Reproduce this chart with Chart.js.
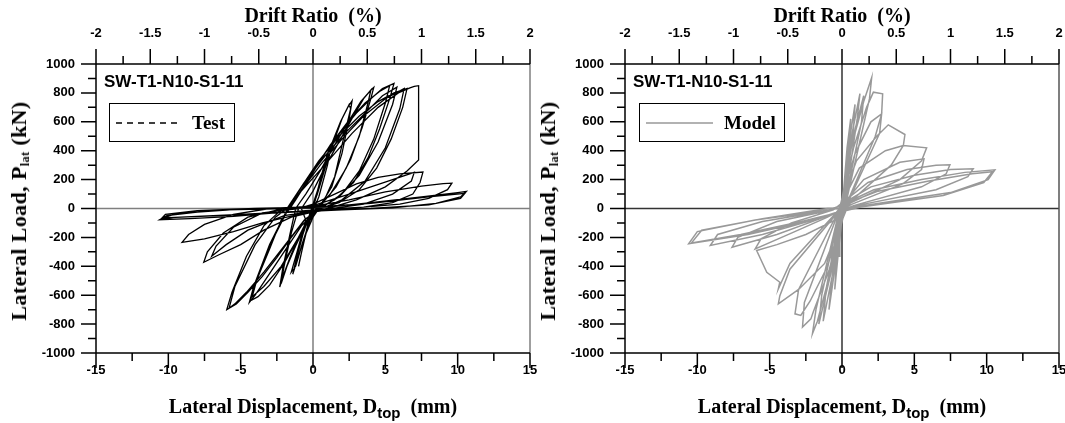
<!DOCTYPE html>
<html>
<head>
<meta charset="utf-8">
<script src="https://cdn.jsdelivr.net/npm/chart.js@4.4.0/dist/chart.umd.min.js"></script>
<style>
body { margin: 0; background: #fff; }
#wrap { position: relative; width: 1065px; height: 423px; overflow: hidden; background: #fff; }
.panel { position: absolute; top: 0; height: 423px; }
.panel canvas { position: absolute; left: 0; top: 0; }
.ttl { position: absolute; font-family: "Liberation Serif", "Times New Roman", serif; font-weight: bold; font-size: 20px; line-height: 20px; white-space: nowrap; color: #000; }
.ttl.top { left: 313px; top: 5px; transform: translateX(-50%); }
.ttl.bot { left: 313px; top: 396px; transform: translateX(-50%); }
.ttl.ylab { left: 19px; top: 211px; font-size: 22px; letter-spacing: 0.4px; transform: translate(-50%, -50%) rotate(-90deg); }
.ttl sub { font-size: 12px; vertical-align: -3px; line-height: 0; }
.ttl .dsub { font-family: "Liberation Sans", Arial, sans-serif; font-size: 15px; position: relative; top: 5px; }
.tag { position: absolute; left: 104px; top: 73px; font-family: "Liberation Sans", Arial, sans-serif; font-weight: bold; font-size: 17px; line-height: 18px; white-space: nowrap; }
.legend { position: absolute; top: 103px; height: 39px; border: 1px solid #000; background: #fff; box-sizing: border-box; }
.legend svg { position: absolute; left: 5px; top: 0; }
.legend span { position: absolute; top: 9px; font-family: "Liberation Serif", "Times New Roman", serif; font-weight: bold; font-size: 19px; line-height: 20px; }
</style>
</head>
<body>
<div id="wrap">
  <div class="panel" style="left:0;width:545px">
    <canvas id="testChart" width="545" height="423"></canvas>
    <div class="ttl top">Drift Ratio&nbsp;&nbsp;(%)</div>
    <div class="ttl ylab">Lateral Load, P<sub>lat</sub> (kN)</div>
    <div class="ttl bot">Lateral Displacement, D<span class="dsub">top</span>&nbsp;&nbsp;(mm)</div>
    <div class="tag">SW-T1-N10-S1-11</div>
    <div class="legend" style="left:109px;width:126px">
      <svg width="70" height="37"><line x1="1" y1="19" x2="66" y2="19" stroke="#000" stroke-width="1.3" stroke-dasharray="6 5"/></svg>
      <span style="left:82px">Test</span>
    </div>
  </div>
  <div class="panel" style="left:529px;width:536px">
    <canvas id="modelChart" width="536" height="423"></canvas>
    <div class="ttl top">Drift Ratio&nbsp;&nbsp;(%)</div>
    <div class="ttl ylab">Lateral Load, P<sub>lat</sub> (kN)</div>
    <div class="ttl bot">Lateral Displacement, D<span class="dsub">top</span>&nbsp;&nbsp;(mm)</div>
    <div class="tag">SW-T1-N10-S1-11</div>
    <div class="legend" style="left:110px;width:146px">
      <svg width="75" height="37"><line x1="1" y1="19" x2="68" y2="19" stroke="#999" stroke-width="1.5"/></svg>
      <span style="left:84px">Model</span>
    </div>
  </div>
</div>
<script>
// tick labels
const dispTicks = [-15, -10, -5, 0, 5, 10, 15];
const driftTicks = [-2, -1.5, -1, -0.5, 0, 0.5, 1, 1.5, 2];
const loadTicks = [-1000, -800, -600, -400, -200, 0, 200, 400, 600, 800, 1000];

// test: top displacement (mm) / lateral load (kN), one line per cycle
const testDisp = [
  0,
  0.3, 0.6, 0.4, 0, -0.3, -0.6, -0.4, 0,
  0.5, 1.0, 1.3, 1.0, 0.4, -0.2, -0.6, -0.9, -1.0, -0.7, -0.2,
  0.3, 0.9, 1.5, 2.0, 2.4, 2.7, 2.5, 2.0, 1.3, 0.5, -0.2, -0.7, -1.1, -1.4, -1.2, -0.7, -0.2,
  0.4, 1.1, 1.9, 2.5, 2.6, 2.1, 1.5, 0.7, 0, -0.6, -1.2, -1.5, -1.1, -0.5,
  -0.8, 0, 0.9, 1.9, 2.8, 3.5, 4.0, 4.2, 4.0, 3.4, 2.6, 1.6, 0.6, -0.3, -1.0, -1.6, -2.0, -2.3, -2.1, -1.6, -1.2,
  -0.5, 0.5, 1.5, 2.5, 3.3, 4.0, 3.8, 3.2, 2.3, 1.2, 0.2, -0.5, -1.2, -1.8, -2.2, -2.0, -1.5, -1.0,
  -1.6, -0.8, 0, 1.0, 2.0, 3.0, 4.0, 4.8, 5.6, 5.3, 4.6, 3.8, 2.8, 1.5, 0.3, -0.3, -1.0, -2.0, -3.0, -3.8, -4.35, -4.0, -3.0, -2.2, -1.6,
  -1.2, 0, 1.2, 2.4, 3.6, 4.6, 5.3, 5.0, 4.2, 3.2, 2.0, 0.8, 0, -1.0, -2.2, -3.4, -4.2, -3.9, -2.8, -1.8,
  -1.7, -0.8, 0.4, 1.8, 3.2, 4.5, 5.6, 6.5, 6.2, 5.4, 4.4, 3.2, 1.8, 0.5, -0.5, -1.5, -2.5, -3.5, -4.5, -5.3, -5.96, -5.6, -4.6, -3.4, -2.3, -1.7,
  -1.0, 0.5, 2.0, 3.5, 5.0, 6.3, 6.0, 5.0, 3.6, 2.0, 0.6, -0.6, -2.0, -3.4, -4.6, -5.4, -5.8, -5.4, -4.0, -2.6, -1.8,
  -0.6, 0.8, 2.2, 3.6, 4.8, 5.8, 5.5, 4.5, 3.2, 1.8, 0.4, -0.8, -2.0, -3.2, -4.0, -4.4, -4.1, -3.0, -1.9,
  -1.0, 0.8, 2.7, 4.5, 5.9, 6.7, 7.0, 7.3, 7.3, 7.3, 7.3, 6.5, 5.0, 3.0, 1.0, -1.5, -3.4, -5.0, -6.5, -7.55, -7.3, -6.2, -4.5, -2.0,
  0, 2.5, 5.5, 7.0, 6.8, 5.5, 3.5, 1.0, -2.0, -4.5, -6.0, -7.0, -6.7, -5.5, -3.5, -1.0,
  0, 1.5, 3.0, 4.5, 6.0, 7.6, 7.4, 6.9, 5.5, 3.5, 1.0, -1.0, -3.5, -5.5, -7.5, -9.05, -8.6, -7.5, -5.5, -3.0,
  0, 2.5, 5.0, 7.5, 9.0, 9.6, 9.3, 8.0, 6.0, 3.5, 1.0, -2.0, -5.5, -8.5, -10.6, -10.1, -8.0, -5.0, -2.0,
  1.0, 4.0, 7.5, 10.0, 10.6, 10.2, 8.5, 5.5, 2.0, -2.5, -6.5, -9.5, -10.5, -10.2, -8.0, -4.0, 0,
  4.0, 8.0, 10.5, 10.2, 8.0, 4.0, 0, -5.0, -10.3, -9.5, -6.0, -2.0, 0
];
const testLoad = [
  0,
  120, 230, 150, 20, -100, -220, -140, -10,
  200, 380, 450, 300, 80, -60, -220, -350, -400, -260, -40,
  100, 300, 480, 620, 700, 745, 620, 380, 150, 20, -80, -230, -360, -455, -370, -180, -30,
  150, 400, 600, 720, 690, 480, 220, 40, -60, -200, -400, -440, -300, -80,
  0, 120, 300, 480, 640, 760, 820, 838, 760, 560, 340, 150, 30, -80, -200, -340, -450, -544, -420, -180, 0,
  100, 260, 440, 610, 740, 820, 730, 500, 280, 100, 0, -110, -260, -400, -520, -400, -170, 0,
  0, 130, 260, 410, 540, 660, 760, 830, 865, 760, 550, 350, 180, 60, 0, -60, -200, -380, -530, -610, -640, -520, -280, -80, 0,
  60, 250, 440, 600, 730, 810, 850, 730, 480, 260, 100, 20, -40, -200, -400, -540, -610, -500, -220, -20,
  0, 150, 330, 500, 640, 740, 800, 830, 700, 480, 280, 130, 40, 0, -70, -200, -340, -470, -580, -660, -700, -580, -330, -120, -20, 0,
  100, 300, 480, 640, 760, 830, 690, 420, 190, 60, 0, -80, -260, -440, -580, -660, -690, -540, -250, -60, 0,
  180, 360, 520, 660, 780, 840, 720, 460, 230, 80, 0, -120, -300, -480, -600, -650, -540, -250, -30,
  100, 300, 520, 700, 800, 835, 845, 850, 700, 500, 335, 260, 150, 60, 0, -60, -150, -250, -320, -372, -300, -170, -60, 0,
  20, 100, 200, 250, 190, 100, 30, -5, -50, -150, -250, -330, -260, -130, -30, 0,
  30, 100, 170, 215, 240, 252, 180, 100, 40, 10, -10, -40, -100, -160, -210, -235, -180, -110, -40, 0,
  15, 60, 115, 155, 172, 175, 130, 70, 30, 10, -5, -25, -55, -70, -78, -50, -25, -5, 5,
  10, 40, 80, 110, 118, 80, 35, 5, -10, -30, -50, -62, -72, -40, -15, 0, 10,
  35, 80, 105, 70, 25, 0, -15, -40, -65, -35, -10, 0, 5
];

// model: top displacement (mm) / lateral load (kN), one line per cycle
const modelDisp = [
  0,
  0.15, 0.3, 0.25, 0.05, -0.1, -0.2, -0.15, 0,
  0.35, 0.6, 0.5, 0.1, -0.25, -0.5, -0.4, -0.05,
  0.4, 0.9, 0.8, 0.15, -0.4, -0.9, -0.75, -0.1,
  0.5, 1.24, 1.05, 0.2, -0.5, -1.3, -1.1, -0.15,
  0.6, 1.5, 1.35, 0.2, -0.7, -1.6, -1.4, -0.2,
  0.7, 1.5, 2.05, 1.9, 0.3, -0.8, -1.7, -2.04, -1.8, -0.25,
  0.8, 1.7, 2.17, 2.81, 2.74, 2.3, 0.35, -0.9, -2.0, -2.15, -2.73, -2.6, -0.3,
  0.9, 2.0, 2.74, 2.6, 0.4, -1.0, -2.2, -2.85, -3.25, -3.0, -0.35,
  1.0, 2.4, 3.2, 4.35, 4.24, 3.4, 0.5, -1.2, -3.0, -4.4, -4.3, -3.6, -0.4,
  1.2, 3.0, 4.24, 5.85, 5.5, 4.0, 0.6, -0.5, -2.5, -4.5, -5.9, -5.2, -4.3, -4.4, -3.6, -0.5,
  1.5, 4.0, 5.67, 5.5, 4.2, 0.7, -1.0, -3.5, -6.0, -5.6, -3.5, -0.6,
  1.8, 4.5, 6.5, 7.46, 7.2, 5.5, 0.8, -1.5, -4.5, -7.6, -7.2, -4.5, -0.7,
  2.0, 5.0, 7.5, 9.07, 8.7, 6.5, 1.0, -2.0, -5.5, -9.1, -8.6, -5.5, -0.8,
  2.2, 5.5, 8.5, 10.57, 10.1, 7.5, 1.2, -2.5, -6.5, -10.6, -10.0, -6.0, -0.9,
  2.5, 6.0, 9.0, 10.4, 9.8, 7.0, 1.3, -2.8, -7.0, -10.4, -9.7, -5.5, -1.0, 0
];
const modelLoad = [
  0,
  150, 330, 200, 20, -150, -330, -200, -20,
  420, 620, 420, 30, -300, -560, -380, -30,
  400, 720, 560, 40, -350, -700, -520, -40,
  420, 795, 620, 40, -380, -780, -560, -40,
  430, 780, 600, 40, -420, -800, -600, -40,
  450, 740, 905, 760, 50, -440, -780, -866, -700, -40,
  420, 700, 805, 794, 655, 500, 40, -430, -720, -764, -820, -650, -40,
  380, 600, 655, 520, 40, -400, -640, -740, -729, -560, -40,
  330, 500, 579, 512, 436, 300, 40, -380, -560, -660, -605, -420, -40,
  280, 400, 436, 420, 330, 200, 40, -80, -180, -250, -291, -441, -510, -556, -380, -40,
  200, 320, 344, 270, 170, 30, -60, -170, -279, -210, -100, -10,
  180, 270, 300, 302, 240, 150, 20, -70, -180, -268, -200, -90, -10,
  150, 230, 270, 275, 220, 130, 20, -80, -180, -256, -180, -90, -10,
  130, 200, 250, 268, 200, 110, 15, -90, -180, -244, -160, -80, -10,
  120, 190, 240, 255, 180, 90, 10, -90, -180, -238, -150, -70, 0, 0
];

const tickFont = { family: '"Liberation Sans", Arial, sans-serif', size: 13, weight: 'bold' };

function midpoints(vals) {
  const out = [];
  for (let i = 0; i < vals.length - 1; i++) out.push((vals[i] + vals[i + 1]) / 2);
  return out;
}

// frame, zero lines and outward tick marks, placed with the chart's scales
const axisFrame = {
  id: 'axisFrame',
  beforeDatasetsDraw(chart, args, opts) {
    const { ctx, chartArea: a, scales } = chart;
    const x0 = scales.x.getPixelForValue(0);
    const y0 = scales.y.getPixelForValue(0);
    ctx.save();
    ctx.strokeStyle = opts.zeroColor;
    ctx.lineWidth = 1.5;
    ctx.beginPath();
    ctx.moveTo(a.left, y0); ctx.lineTo(a.right, y0);
    ctx.moveTo(x0, a.top); ctx.lineTo(x0, a.bottom);
    ctx.stroke();
    ctx.restore();
  },
  afterDatasetsDraw(chart, args, opts) {
    const { ctx, chartArea: a, scales } = chart;
    ctx.save();
    ctx.lineWidth = 1.5;
    ctx.strokeStyle = opts.rightColor;
    ctx.beginPath();
    ctx.moveTo(a.right, a.top); ctx.lineTo(a.right, a.bottom);
    ctx.stroke();
    ctx.strokeStyle = '#000';
    ctx.beginPath();
    ctx.moveTo(a.left, a.bottom); ctx.lineTo(a.left, a.top); ctx.lineTo(a.right, a.top);
    ctx.moveTo(a.left, a.bottom); ctx.lineTo(a.right, a.bottom);

    [[dispTicks, 15], [midpoints(dispTicks), 8]].forEach(([vals, len]) => {
      vals.forEach(v => {
        const px = scales.x.getPixelForValue(v);
        ctx.moveTo(px, a.bottom); ctx.lineTo(px, a.bottom + len);
      });
    });
    [[driftTicks, 15], [midpoints(driftTicks), 8]].forEach(([vals, len]) => {
      vals.forEach(v => {
        const px = scales.x2.getPixelForValue(v);
        ctx.moveTo(px, a.top); ctx.lineTo(px, a.top - len);
      });
    });
    [[loadTicks, 15], [midpoints(loadTicks), 8]].forEach(([vals, len]) => {
      vals.forEach(v => {
        const py = scales.y.getPixelForValue(v);
        ctx.moveTo(a.left, py); ctx.lineTo(a.left - len, py);
      });
    });
    ctx.stroke();
    ctx.restore();
  }
};

function makeChart(id, disp, load, color, width, zeroColor, rightColor, canvasWidth) {
  const n = Math.min(disp.length, load.length);
  const pts = [];
  for (let i = 0; i < n; i++) pts.push({ x: disp[i], y: load[i] });

  return new Chart(document.getElementById(id), {
    type: 'scatter',
    data: {
      datasets: [{
        data: pts,
        showLine: true,
        borderColor: color,
        borderWidth: width,
        pointRadius: 0,
        tension: 0,
        fill: false
      }]
    },
    options: {
      responsive: false,
      animation: false,
      events: [],
      layout: { padding: { left: 0, top: 0, bottom: 0, right: canvasWidth - 530 } },
      plugins: {
        legend: { display: false },
        tooltip: { enabled: false },
        axisFrame: { zeroColor: zeroColor, rightColor: rightColor }
      },
      scales: {
        x: {
          type: 'linear', position: 'bottom', min: -15, max: 15,
          afterBuildTicks: s => { s.ticks = dispTicks.map(v => ({ value: v })); },
          afterFit: s => { s.height = 70; s.paddingLeft = 0; s.paddingRight = 0; },
          grid: { display: false, drawTicks: false },
          border: { display: false },
          ticks: { font: tickFont, color: '#000', padding: 10, maxRotation: 0, autoSkip: false, callback: v => String(v) }
        },
        x2: {
          type: 'linear', position: 'top', min: -2, max: 2,
          afterBuildTicks: s => { s.ticks = driftTicks.map(v => ({ value: v })); },
          afterFit: s => { s.height = 64; s.paddingLeft = 0; s.paddingRight = 0; },
          grid: { display: false, drawTicks: false },
          border: { display: false },
          ticks: { font: tickFont, color: '#000', padding: 23, maxRotation: 0, autoSkip: false, callback: v => String(v) }
        },
        y: {
          type: 'linear', position: 'left', min: -1000, max: 1000,
          afterBuildTicks: s => { s.ticks = loadTicks.map(v => ({ value: v })); },
          afterFit: s => { s.width = 96; s.paddingTop = 0; s.paddingBottom = 0; },
          grid: { display: false, drawTicks: false },
          border: { display: false },
          ticks: { font: tickFont, color: '#000', padding: 21, autoSkip: false, callback: v => String(v) }
        }
      }
    },
    plugins: [axisFrame]
  });
}

makeChart('testChart', testDisp, testLoad, '#000', 1.3, '#7f7f7f', '#7f7f7f', 545);
makeChart('modelChart', modelDisp, modelLoad, '#999', 1.5, '#333', '#555', 536);
</script>
</body>
</html>
